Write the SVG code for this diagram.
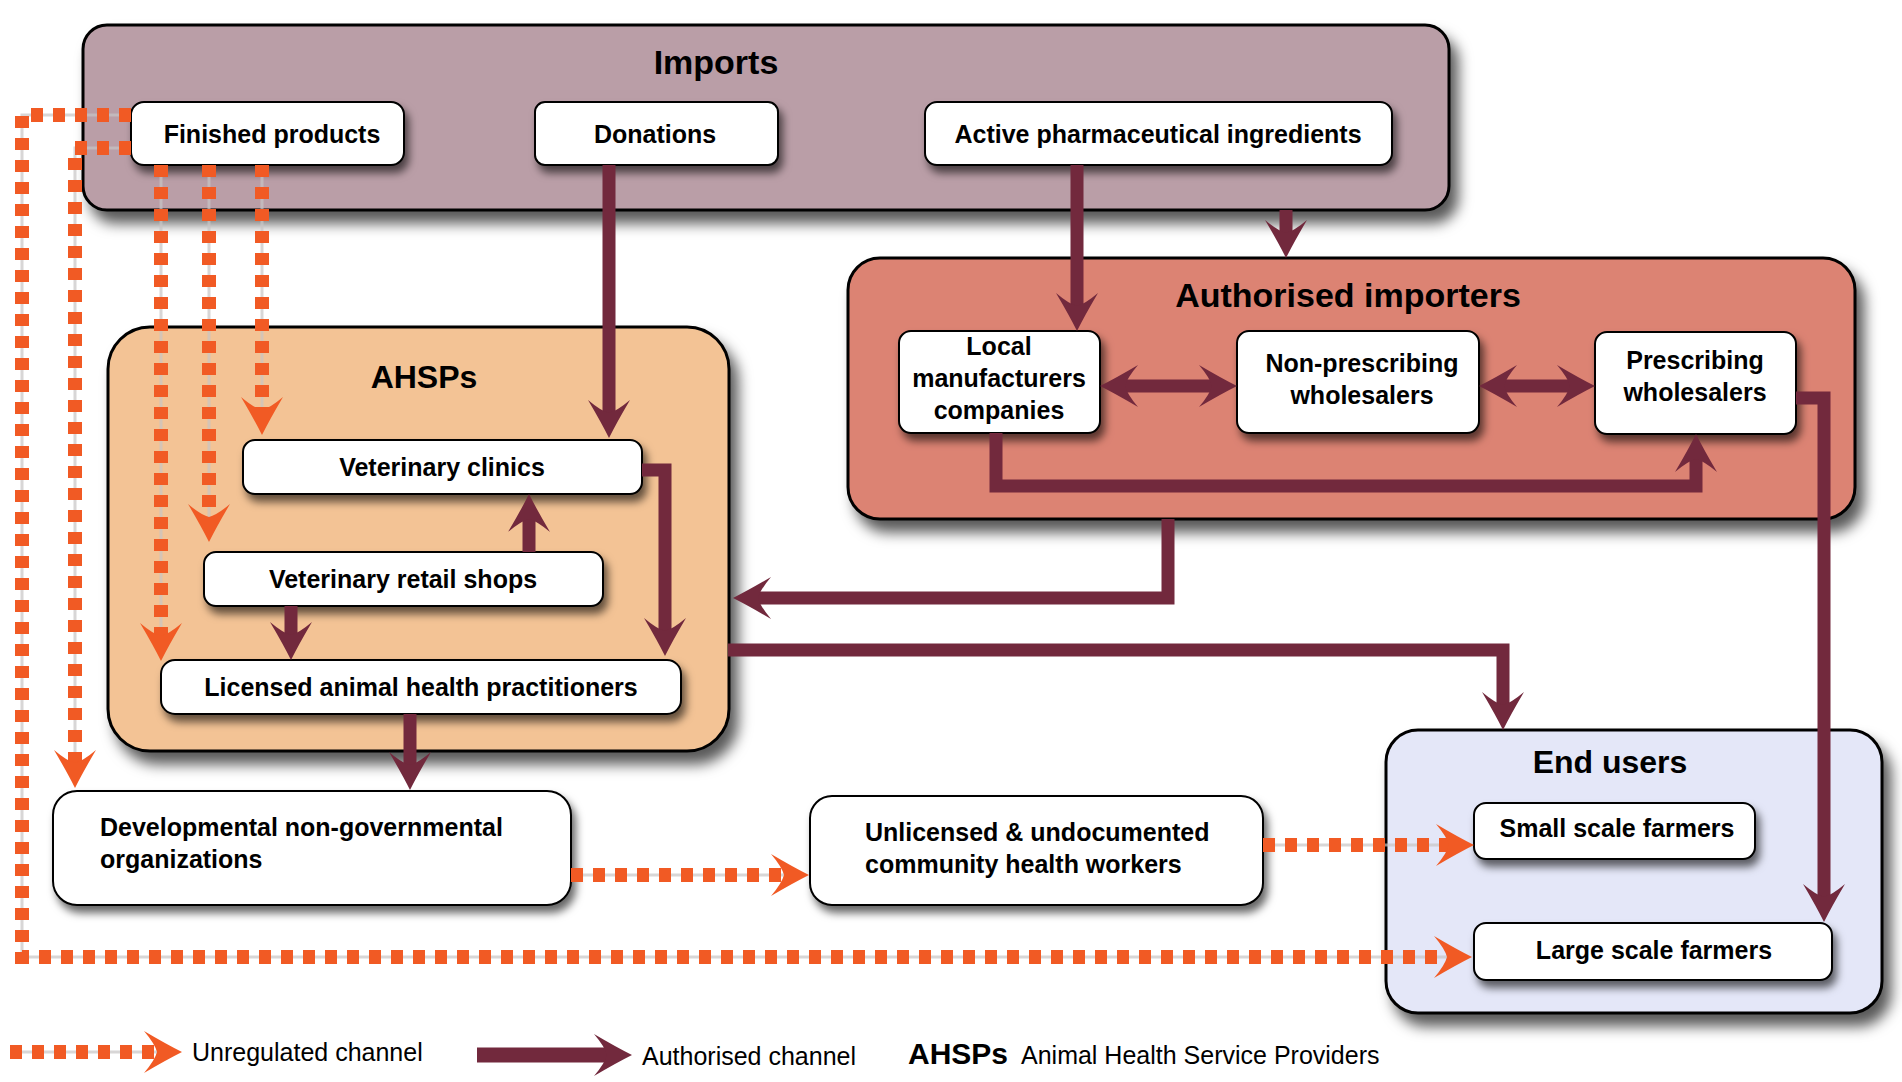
<svg xmlns="http://www.w3.org/2000/svg" width="1902" height="1082" viewBox="0 0 1902 1082">
<defs>
<style>
text{font-family:"Liberation Sans",Arial,sans-serif;fill:#000}
.t{font-size:25px;font-weight:bold}
.title{font-size:34px;font-weight:bold;text-anchor:middle}
.c{text-anchor:middle}
.grp{stroke:#000;stroke-width:3}
.box{fill:#fff;stroke:#000;stroke-width:2}
.auth{fill:none;stroke:#72293d;stroke-width:13;stroke-linejoin:miter;stroke-linecap:butt}
.track{fill:none;stroke:#c8c4c4;stroke-width:3;stroke-opacity:0.7}
.dash{fill:none;stroke:#f15a24;stroke-width:14;stroke-dasharray:12 10;stroke-linejoin:miter}
.leg{font-size:25px}
</style>
<filter id="shL" x="-10%" y="-15%" width="125%" height="145%"><feDropShadow dx="8" dy="12" stdDeviation="7" flood-color="#000" flood-opacity="0.65"/></filter>
<filter id="shS" x="-10%" y="-20%" width="125%" height="170%"><feDropShadow dx="4" dy="7" stdDeviation="4" flood-color="#000" flood-opacity="0.6"/></filter>
<marker id="mh" viewBox="-40 -23 42 46" markerWidth="42" markerHeight="46" refX="-22" refY="0" orient="auto-start-reverse" markerUnits="userSpaceOnUse">
<path d="M0,0 Q-16,-8 -38,-21 Q-27,-8 -25,0 Q-27,8 -38,21 Q-16,8 0,0Z" fill="#72293d"/>
</marker>
<marker id="oh" viewBox="-40 -23 42 46" markerWidth="42" markerHeight="46" refX="-22" refY="0" orient="auto" markerUnits="userSpaceOnUse">
<path d="M0,0 Q-16,-8 -38,-21 Q-27,-8 -25,0 Q-27,8 -38,21 Q-16,8 0,0Z" fill="#f15a24"/>
</marker>
</defs>
<rect width="1902" height="1082" fill="#fff"/>

<g id="imports">
<rect class="grp" x="83" y="25" width="1366" height="185" rx="24" fill="#ba9ea7" filter="url(#shL)"/>
<text class="title" x="716" y="74">Imports</text>
</g>
<g id="authorised-importers">
<rect class="grp" x="848" y="258" width="1007" height="261" rx="32" fill="#dc8373" filter="url(#shL)"/>
<text class="title" x="1348" y="307">Authorised importers</text>
</g>
<g id="ahsps">
<rect class="grp" x="108" y="327" width="621" height="424" rx="42" fill="#f3c395" filter="url(#shL)"/>
<text class="title" x="424" y="388" style="font-size:32px">AHSPs</text>
</g>
<g id="end-users">
<rect class="grp" x="1386" y="730" width="496" height="283" rx="32" fill="#e4e7f8" filter="url(#shL)"/>
<text class="title" x="1610" y="773" style="font-size:32px">End users</text>
</g>

<g id="finished-products">
<rect class="box" x="131" y="102" width="273" height="63" rx="13" filter="url(#shS)"/>
<text class="t c" x="272" y="143">Finished products</text>
</g>
<g id="donations">
<rect class="box" x="535" y="102" width="243" height="63" rx="10" filter="url(#shS)"/>
<text class="t c" x="655" y="143">Donations</text>
</g>
<g id="api">
<rect class="box" x="925" y="102" width="467" height="63" rx="12" filter="url(#shS)"/>
<text class="t c" x="1158" y="143">Active pharmaceutical ingredients</text>
</g>
<g id="local-manufacturers">
<rect class="box" x="899" y="331" width="201" height="102" rx="12" filter="url(#shS)"/>
<text class="t c" x="999" y="355">Local</text>
<text class="t c" x="999" y="387">manufacturers</text>
<text class="t c" x="999" y="419">companies</text>
</g>
<g id="non-prescribing">
<rect class="box" x="1237" y="331" width="242" height="102" rx="12" filter="url(#shS)"/>
<text class="t c" x="1362" y="372">Non-prescribing</text>
<text class="t c" x="1362" y="404">wholesalers</text>
</g>
<g id="prescribing">
<rect class="box" x="1595" y="332" width="201" height="102" rx="12" filter="url(#shS)"/>
<text class="t c" x="1695" y="369">Prescribing</text>
<text class="t c" x="1695" y="401">wholesalers</text>
</g>
<g id="veterinary-clinics">
<rect class="box" x="243" y="440" width="399" height="54" rx="12" filter="url(#shS)"/>
<text class="t c" x="442" y="476">Veterinary clinics</text>
</g>
<g id="veterinary-retail-shops">
<rect class="box" x="204" y="552" width="399" height="54" rx="12" filter="url(#shS)"/>
<text class="t c" x="403" y="588">Veterinary retail shops</text>
</g>
<g id="licensed-practitioners">
<rect class="box" x="161" y="660" width="520" height="54" rx="14" filter="url(#shS)"/>
<text class="t c" x="421" y="696">Licensed animal health practitioners</text>
</g>
<g id="ngo">
<rect class="box" x="53" y="791" width="518" height="114" rx="24" filter="url(#shS)"/>
<text class="t" x="100" y="836">Developmental non-governmental</text>
<text class="t" x="100" y="868">organizations</text>
</g>
<g id="unlicensed">
<rect class="box" x="810" y="796" width="453" height="109" rx="22" filter="url(#shS)"/>
<text class="t" x="865" y="841">Unlicensed &amp; undocumented</text>
<text class="t" x="865" y="873">community health workers</text>
</g>
<g id="small-scale">
<rect class="box" x="1474" y="803" width="281" height="56" rx="12" filter="url(#shS)"/>
<text class="t c" x="1617" y="837">Small scale farmers</text>
</g>
<g id="large-scale">
<rect class="box" x="1474" y="923" width="358" height="57" rx="12" filter="url(#shS)"/>
<text class="t c" x="1654" y="959">Large scale farmers</text>
</g>

<g id="connectors">
<g id="unregulated">
<path class="track" d="M131,115 H22 V957 H1450"/>
<path class="dash" d="M131,115 H22 V957 H1450" marker-end="url(#oh)"/>
<path class="track" d="M131,148 H75 V766"/>
<path class="dash" d="M131,148 H75 V766" marker-end="url(#oh)"/>
<path class="track" d="M161,165 V639"/>
<path class="dash" d="M161,165 V639" marker-end="url(#oh)"/>
<path class="track" d="M209,165 V520"/>
<path class="dash" d="M209,165 V520" marker-end="url(#oh)"/>
<path class="track" d="M262,165 V413"/>
<path class="dash" d="M262,165 V413" marker-end="url(#oh)"/>
<path class="track" d="M571,875 H787"/>
<path class="dash" d="M571,875 H787" marker-end="url(#oh)"/>
<path class="track" d="M1263,845 H1452"/>
<path class="dash" d="M1263,845 H1452" marker-end="url(#oh)"/>
</g>
<g id="authorised">
<path class="auth" d="M609,165 V416" marker-end="url(#mh)"/>
<path class="auth" d="M642,470 H665 V634" marker-end="url(#mh)"/>
<path class="auth" d="M529,552 V516" marker-end="url(#mh)"/>
<path class="auth" d="M291,606 V638" marker-end="url(#mh)"/>
<path class="auth" d="M410,714 V768" marker-end="url(#mh)"/>
<path class="auth" d="M1077,165 V309" marker-end="url(#mh)"/>
<path class="auth" d="M1286,210 V236" marker-end="url(#mh)"/>
<path class="auth" d="M1122,386 H1215" marker-start="url(#mh)" marker-end="url(#mh)"/>
<path class="auth" d="M1501,386 H1573" marker-start="url(#mh)" marker-end="url(#mh)"/>
<path class="auth" d="M996,433 V486 H1696 V456" marker-end="url(#mh)"/>
<path class="auth" d="M1796,398 H1824 V900" marker-end="url(#mh)"/>
<path class="auth" d="M1168,519 V598 H755" marker-end="url(#mh)"/>
<path class="auth" d="M728,650 H1503 V708" marker-end="url(#mh)"/>
</g>
</g>

<g id="legend">
<path class="track" d="M10,1052 H160"/>
<path class="dash" d="M10,1052 H160" marker-end="url(#oh)"/>
<text class="leg" x="192" y="1061">Unregulated channel</text>
<path class="auth" d="M477,1055 H610" style="stroke-width:15" marker-end="url(#mh)"/>
<text class="leg" x="642" y="1065">Authorised channel</text>
<text x="908" y="1064" style="font-size:30px;font-weight:bold">AHSPs</text>
<text class="leg" x="1021" y="1064">Animal Health Service Providers</text>
</g>
</svg>
